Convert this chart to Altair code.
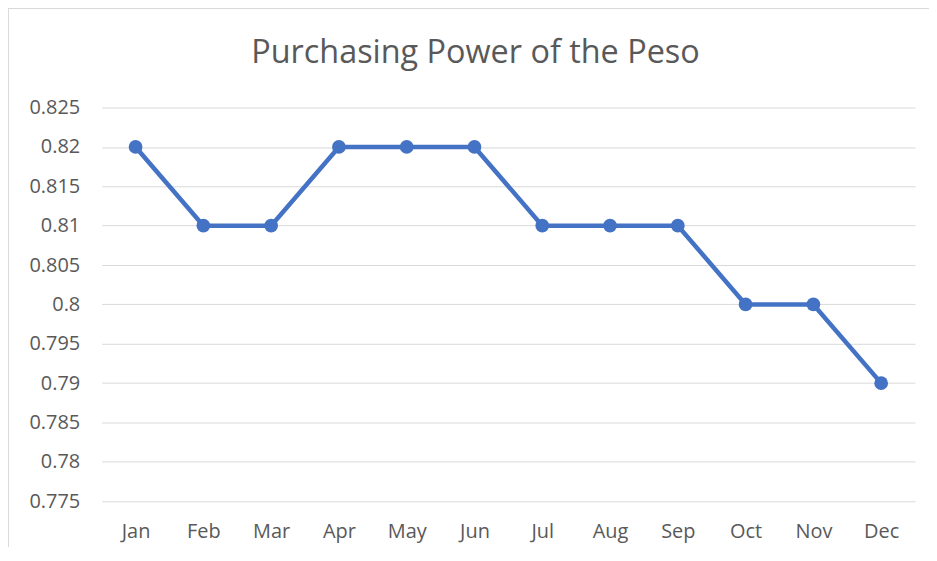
import altair as alt
import pandas as pd

months = ["Jan", "Feb", "Mar", "Apr", "May", "Jun", "Jul", "Aug", "Sep", "Oct", "Nov", "Dec"]
values = [0.82, 0.81, 0.81, 0.82, 0.82, 0.82, 0.81, 0.81, 0.81, 0.80, 0.80, 0.79]
y_ticks = [0.775, 0.78, 0.785, 0.79, 0.795, 0.8, 0.805, 0.81, 0.815, 0.82, 0.825]

df = pd.DataFrame({"month": months, "value": values})

FONT = "Open Sans"
GREY = "#595959"

x_enc = alt.X("month:O", sort=months, title=None,
              scale=alt.Scale(type="point", padding=0.5),
              axis=alt.Axis(labelAngle=0, ticks=False, domain=False, grid=False,
                            labelPadding=20, labelFontSize=20, labelColor=GREY, labelFont=FONT))
y_enc = alt.Y("value:Q", title=None,
              scale=alt.Scale(domain=[0.775, 0.825], nice=False, zero=False),
              axis=alt.Axis(values=y_ticks, format="~g", ticks=False, domain=False,
                            gridColor="#d9d9d9", gridWidth=1, labelPadding=22,
                            labelFontSize=20, labelColor=GREY, labelFont=FONT))

line = alt.Chart(df).mark_line(color="#4472C4", strokeWidth=4.5).encode(x=x_enc, y=y_enc)
pts = alt.Chart(df).mark_point(color="#4472C4", filled=True, opacity=1, size=190).encode(x=x_enc, y=y_enc)

frame = alt.Chart(df).mark_rect(fill="transparent", stroke="#d9d9d9", strokeWidth=1.5, clip=False).encode(
    x=alt.value(-94.5), x2=alt.value(840), y=alt.value(-99.5), y2=alt.value(470)
)

chart = alt.layer(frame, line, pts).properties(
    width=816, height=395,
    title=alt.TitleParams("Purchasing Power of the Peso", fontSize=32.5, font=FONT, color=GREY,
                          fontWeight="normal", anchor="middle", frame="group",
                          baseline="alphabetic", offset=-88, dx=-33),
    autosize=alt.AutoSizeParams(type="none"),
    padding={"left": 94, "top": 99, "right": 14, "bottom": 45},
).configure_view(stroke=None)

chart.save("out.html", embed_options={"renderer": "svg", "actions": False})
